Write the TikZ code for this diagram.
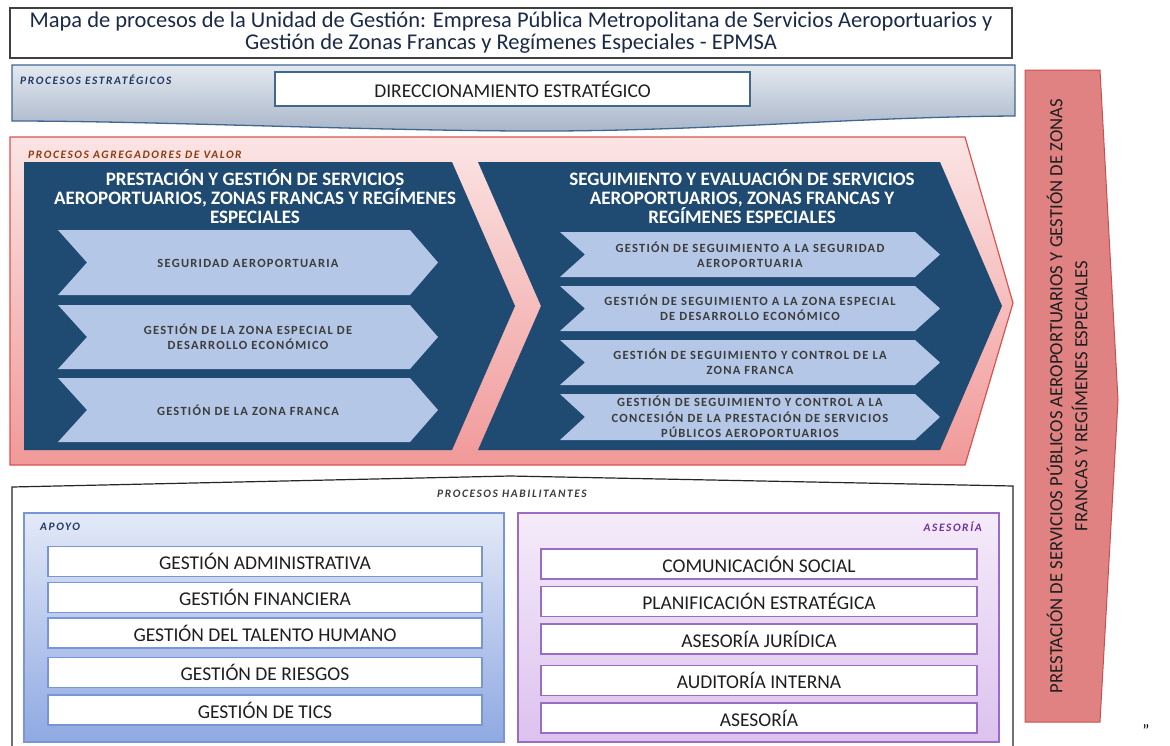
\documentclass[tikz,border=0pt]{standalone}
\usepackage{fontspec}
\setmainfont{Carlito}
\newfontfamily\itemfont[LetterSpace=10]{Carlito}
\newfontfamily\tagfont[LetterSpace=14]{Carlito}
\usetikzlibrary{positioning}
\definecolor{navy}{HTML}{1F4A72}
\definecolor{paleblue}{HTML}{B4C7E7}
\definecolor{bandtop}{HTML}{E4E9F0}
\definecolor{bandbot}{HTML}{A8B6C9}
\definecolor{bandline}{HTML}{41668F}
\definecolor{pinktop}{HTML}{FBE4E4}
\definecolor{pinkbot}{HTML}{F19999}
\definecolor{pinkline}{HTML}{D9534F}
\definecolor{salmon}{HTML}{E08282}
\definecolor{salmonline}{HTML}{C9504F}
\definecolor{apoyotop}{HTML}{E3E9F7}
\definecolor{apoyobot}{HTML}{8FA9E2}
\definecolor{apoyoline}{HTML}{7895D6}
\definecolor{asetop}{HTML}{F5EBFA}
\definecolor{asebot}{HTML}{DCC2EE}
\definecolor{aseline}{HTML}{9A6CC4}
\definecolor{inkdark}{HTML}{1E1E1E}
\definecolor{inkgray}{HTML}{3C3C3C}
\definecolor{titleink}{HTML}{1B2A47}
\definecolor{tagbrown}{HTML}{8A3B0E}
\definecolor{tagblue}{HTML}{1F3864}
\definecolor{tagpurple}{HTML}{7030A0}

\begin{document}
\begin{tikzpicture}[x=1pt, y=-1pt,
    lbox/.style={draw=#1, line width=1.6pt, fill=white, minimum height=30pt, inner sep=0pt, text=inkdark, font=\fontsize{19.5}{21}\selectfont},
    chevtext/.style={align=center, text=inkgray, font=\itemfont\bfseries\fontsize{12.5}{15.5}\selectfont},
    headtext/.style={align=center, text=white, font=\bfseries\fontsize{19}{19}\selectfont},
    tag/.style={text=#1, font=\tagfont\bfseries\itshape\fontsize{11.4}{12}\selectfont, inner sep=0pt}]
\useasboundingbox (0,0) rectangle (1170,745);
% title
\draw[line width=1.3pt, draw=black!75, fill=white] (10,8) rectangle (1012,58);
\node[align=center, text=titleink, font=\fontsize{22.5}{22}\selectfont] (title) at (511,33) {Mapa de procesos de la Unidad de Gestión: Empresa Pública Metropolitana de Servicios Aeroportuarios y\\Gestión de Zonas Francas y Regímenes Especiales - EPMSA};
% strategic band
\shadedraw[top color=bandtop, bottom color=bandbot, draw=bandline, line width=1.3pt]
    (12,65) -- (1015,65) -- (1015,116) .. controls (850,117) and (700,132) .. (520,131)
    .. controls (350,130) and (150,121) .. (12,121) -- cycle;
\node[tag=tagblue, anchor=west] (tagest) at (20,80) {PROCESOS ESTRATÉGICOS};
\node[draw=bandline, line width=1.3pt, fill=white, minimum width=475pt, minimum height=34pt, font=\fontsize{19.5}{21}\selectfont, text=inkdark] (direc) at (512.5,89) {DIRECCIONAMIENTO ESTRATÉGICO};
% right arrow
\filldraw[fill=salmon, draw=salmonline, line width=1pt] (1025,70) -- (1100,70) -- (1118,400) -- (1100,722) -- (1025,722) -- cycle;
\node[rotate=90, align=center, text=inkdark, font=\fontsize{18.7}{25}\selectfont] (prest) at (1067,396) {PRESTACIÓN DE SERVICIOS PÚBLICOS AEROPORTUARIOS Y GESTIÓN DE ZONAS\\FRANCAS Y REGÍMENES ESPECIALES};
% value band
\shadedraw[top color=pinktop, bottom color=pinkbot, draw=pinkline, line width=1.2pt] (10,137) -- (965,137) -- (1013,303) -- (965,465) -- (10,465) -- cycle;
\node[tag=tagbrown, anchor=west] (tagval) at (28,155) {PROCESOS AGREGADORES DE VALOR};
% 1st chevron
\fill[navy] (24,162) -- (452,162) -- (515,306) -- (452,450) -- (24,450) -- cycle;
\node[headtext] (prestacion) at (255,197) {PRESTACIÓN Y GESTIÓN DE SERVICIOS\\AEROPORTUARIOS, ZONAS FRANCAS Y REGÍMENES\\ESPECIALES};
\foreach \t/\b in {230/295, 305/369, 378/442}
    \fill[paleblue] (58,\t) -- (410,\t) -- (438,{(\t+\b)/2}) -- (410,\b) -- (58,\b) -- (87,{(\t+\b)/2}) -- cycle;
\node[chevtext] (seg) at (248,263) {SEGURIDAD AEROPORTUARIA};
\node[chevtext] (zede) at (248,337) {GESTIÓN DE LA ZONA ESPECIAL DE\\DESARROLLO ECONÓMICO};
\node[chevtext] (zfr) at (248,410) {GESTIÓN DE LA ZONA FRANCA};
% 2nd chevron
\fill[navy] (478,162) -- (940,162) -- (1002,306) -- (940,450) -- (478,450) -- (541,306) -- cycle;
\node[headtext] (seguim) at (742,197) {SEGUIMIENTO Y EVALUACIÓN DE SERVICIOS\\AEROPORTUARIOS, ZONAS FRANCAS Y\\REGÍMENES ESPECIALES};
\foreach \t/\b in {232/277, 286/331, 340/385, 394/440}
    \fill[paleblue] (560,\t) -- (915,\t) -- (940,{(\t+\b)/2}) -- (915,\b) -- (560,\b) -- (585,{(\t+\b)/2}) -- cycle;
\node[chevtext] (segseg) at (750,255) {GESTIÓN DE SEGUIMIENTO A LA SEGURIDAD\\AEROPORTUARIA};
\node[chevtext] (segzede) at (750,308) {GESTIÓN DE SEGUIMIENTO A LA ZONA ESPECIAL\\DE DESARROLLO ECONÓMICO};
\node[chevtext] (segzfr) at (750,362) {GESTIÓN DE SEGUIMIENTO Y CONTROL DE LA\\ZONA FRANCA};
\node[chevtext] (segcon) at (750,417) {GESTIÓN DE SEGUIMIENTO Y CONTROL A LA\\CONCESIÓN DE LA PRESTACIÓN DE SERVICIOS\\PÚBLICOS AEROPORTUARIOS};
% enabling processes
\filldraw[fill=white, draw=black!85, line width=1.2pt] (12,750) -- (12,487) -- (510,476) -- (1013,486) -- (1013,750);
\node[tag=inkgray] (taghab) at (512,494) {PROCESOS HABILITANTES};
% apoyo
\shadedraw[top color=apoyotop, bottom color=apoyobot, draw=apoyoline, line width=1.3pt] (24,513) rectangle (504,742);
\node[tag=tagblue, anchor=west] (tagapo) at (40,527) {APOYO};
\node[lbox=apoyoline, minimum width=434pt] (admin) at (265,561.5) {GESTIÓN ADMINISTRATIVA};
\node[lbox=apoyoline, minimum width=434pt] (finan) at (265,597.5) {GESTIÓN FINANCIERA};
\node[lbox=apoyoline, minimum width=434pt] (talento) at (265,633) {GESTIÓN DEL TALENTO HUMANO};
\node[lbox=apoyoline, minimum width=434pt] (riesgos) at (265,672.5) {GESTIÓN DE RIESGOS};
\node[lbox=apoyoline, minimum width=434pt] (tics) at (265,710) {GESTIÓN DE TICS};
% asesoria
\shadedraw[top color=asetop, bottom color=asebot, draw=aseline, line width=1.3pt] (518,513) rectangle (999,742);
\node[tag=tagpurple, anchor=east] (tagase) at (982,527) {ASESORÍA};
\node[lbox=aseline, minimum width=436pt] (comsoc) at (759,564) {COMUNICACIÓN SOCIAL};
\node[lbox=aseline, minimum width=436pt] (planif) at (759,601.5) {PLANIFICACIÓN ESTRATÉGICA};
\node[lbox=aseline, minimum width=436pt] (juridica) at (759,639) {ASESORÍA JURÍDICA};
\node[lbox=aseline, minimum width=436pt] (auditoria) at (759,680.5) {AUDITORÍA INTERNA};
\node[lbox=aseline, minimum width=436pt] (asesoria) at (759,718) {ASESORÍA};
\node[font=\fontsize{17}{17}\selectfont, inner sep=0pt, anchor=base] (cierre) at (1146,736) {”};
\end{tikzpicture}
\end{document}
